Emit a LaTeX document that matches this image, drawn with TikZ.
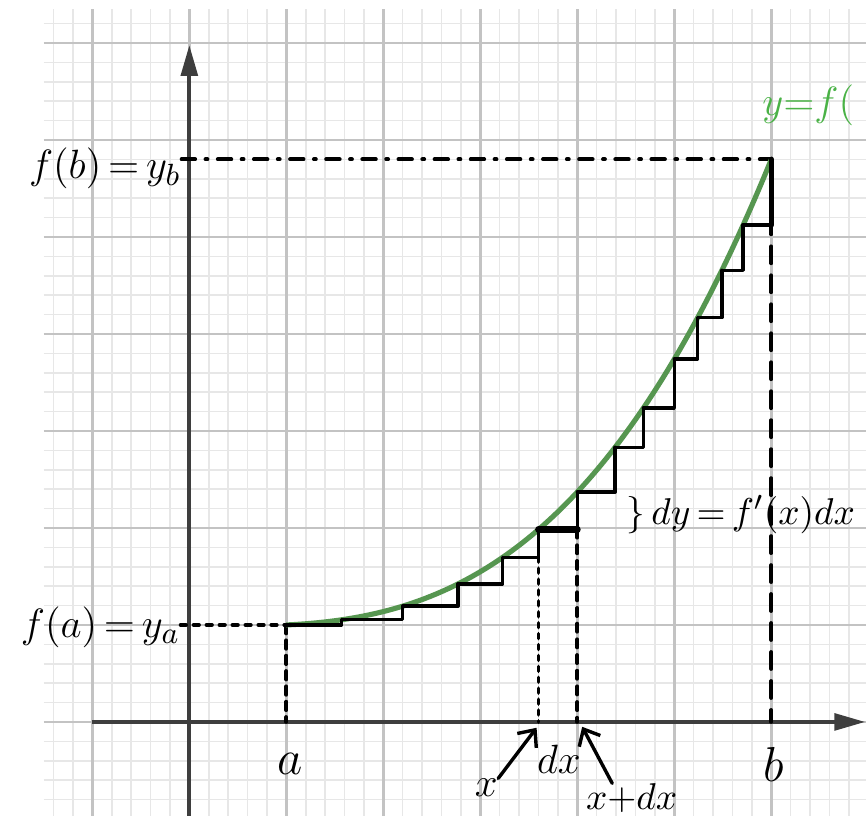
\documentclass[tikz,border=0pt]{standalone}
\usetikzlibrary{arrows.meta}
\definecolor{gridmajor}{RGB}{195,195,195}
\definecolor{gridminor}{RGB}{231,231,231}
\definecolor{axisgray}{RGB}{62,62,62}
\definecolor{curvegreen}{RGB}{86,150,80}
\definecolor{labelgreen}{RGB}{74,178,70}
\begin{document}
\begin{tikzpicture}[
  declare function={fc(\x)=1+4.8*(0.05*((\x-1)/5)+0.35*((\x-1)/5)^2+0.6*((\x-1)/5)^3);},
  minorgrid/.style={draw=gridminor, line width=0.45pt},
  majorgrid/.style={draw=gridmajor, line width=0.7pt},
  axisline/.style={draw=axisgray, line width=1.25pt, -{Triangle[length=0.32cm,width=0.17cm]}},
  curveline/.style={draw=curvegreen, line width=1.5pt},
  stairline/.style={draw=black, line width=1pt, line cap=round, line join=round},
  guide/.style={draw=black, line width=1.1pt, line cap=round},
  lbl/.style={inner sep=0pt, font=\fontsize{14}{16}\selectfont},
  sidelbl/.style={inner sep=0pt, font=\fontsize{13}{15}\selectfont},
  smalllbl/.style={inner sep=0pt, font=\fontsize{12}{14}\selectfont},
  harrow/.style={draw=black, line width=1pt, line cap=round, -{Straight Barb[length=4pt,width=7pt]}},
]
\useasboundingbox (-1.952,-0.969) rectangle (6.976,7.443);
\fill[white] (-1.952,-0.969) rectangle (6.976,7.443);

% grid paper
\draw[minorgrid, step=0.2] (-1.5,-0.969) grid (6.976,7.35);
\draw[majorgrid, step=1] (-1.5,-0.969) grid (6.976,7.35);

% axes
\coordinate (xstart) at (-1,0);
\coordinate (xend) at (6.97,0);
\coordinate (ystart) at (0,-0.969);
\coordinate (yend) at (0,6.98);
\draw[axisline] (xstart) -- (xend);
\draw[axisline] (ystart) -- (yend);

% key points
\coordinate (A) at (1,1);
\coordinate (B) at (6,5.8);
\coordinate (Aax) at (1,0);
\coordinate (Bax) at (6,0);
\coordinate (Xtop) at (3.6,{fc(3.23)});
\coordinate (Xax) at (3.6,0);
\coordinate (XDtop) at (4,{fc(3.6)});
\coordinate (XDax) at (4,0);

% labels
\node[sidelbl, anchor=east] (fb) at (-0.08,5.71) {$f(b)\,{=}\,y_b$};
\node[sidelbl, anchor=east] (fa) at (-0.09,0.98) {$f(a)\,{=}\,y_a$};
\node[lbl] (al) at (1.04,-0.43) {$a$};
\node[lbl] (bl) at (6.02,-0.44) {$b$};
\node[smalllbl] (xl) at (3.06,-0.68) {$x$};
\node[smalllbl] (dxl) at (3.81,-0.38) {$dx$};
\node[inner sep=0pt, font=\fontsize{11}{13}\selectfont] (xdxl) at (4.56,-0.79) {$x{+}dx$};
\node[inner sep=0pt, font=\fontsize{11}{14}\selectfont, anchor=west] (dyl) at (4.5,2.14) {$\}\,dy\,{=}\,f'(x)dx$};
\node[inner sep=0pt, font=\fontsize{12.5}{15}\selectfont, anchor=west, text=labelgreen] (yfl) at (5.9,6.36) {$y{=}f($};

% guide lines
\draw[guide, dash pattern=on 4pt off 3pt on 0.6pt off 3pt] (fb.east |- B) -- (B);
\draw[guide, dash pattern=on 5pt off 3.5pt] (B) -- (Bax);
\draw[guide, dash pattern=on 1.6pt off 2.2pt] (fa.east |- A) -- (A);
\draw[guide, dash pattern=on 2.5pt off 2pt] (A) -- (Aax);
\draw[guide, dash pattern=on 1.4pt off 1.8pt] (Xtop) -- (Xax);
\draw[guide, dash pattern=on 2.4pt off 2.2pt] (XDtop) -- (XDax);

% curve
\draw[curveline] plot[domain=1:6, samples=80, smooth] (\x,{fc(\x)});

% staircase
\foreach \xa/\xb in {1/1.57, 1.57/2.2, 2.2/2.77, 2.77/3.23, 3.23/3.6, 3.6/4.0, 4.0/4.39, 4.39/4.68, 4.68/5.0, 5.0/5.24, 5.24/5.49, 5.49/5.71, 5.71/6.0}
  \draw[stairline] (\xa,{fc(\xa)}) -- (\xb,{fc(\xa)}) -- (\xb,{fc(\xb)});
\draw[stairline, line width=2pt] (3.6,{fc(3.6)}) -- (4.0,{fc(3.6)});
\draw[stairline, line width=1.6pt] (6,{fc(5.71)}) -- (B);

% pointer arrows
\draw[harrow] (xl.north east) -- ([shift={(-0.02,-0.06)}]Xax);
\draw[harrow] ([xshift=-0.2cm]xdxl.north) -- ([shift={(0.05,-0.05)}]XDax);
\end{tikzpicture}
\end{document}
